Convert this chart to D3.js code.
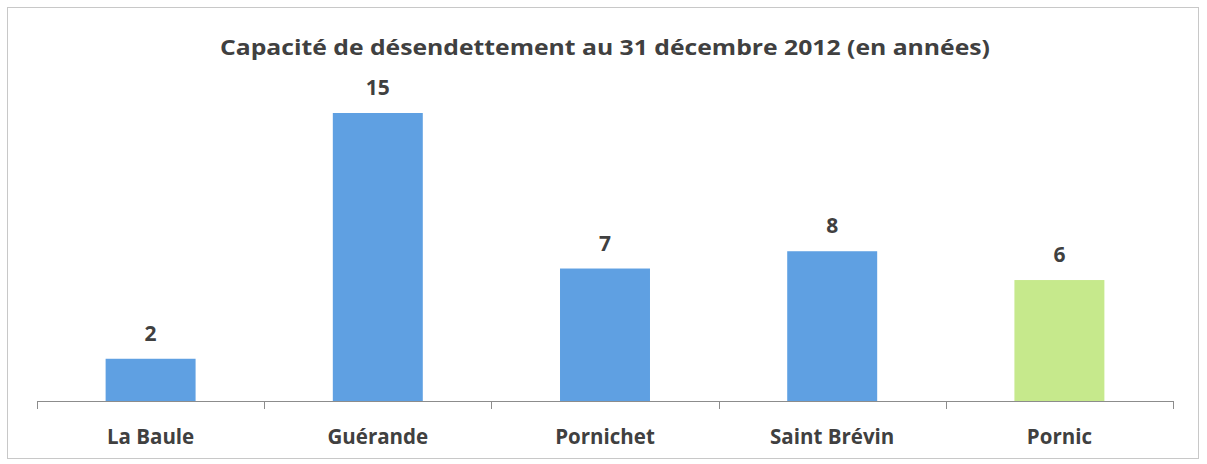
<!DOCTYPE html>
<html>
<head>
<meta charset="utf-8">
<script src="https://cdn.jsdelivr.net/npm/d3@7"></script>
<style>
  body { margin: 0; background: #fff; }
  svg text { font-family: "Open Sans", "Liberation Sans", sans-serif; font-weight: bold; fill: #404040; }
</style>
</head>
<body>
<svg width="1207" height="464"></svg>
<script>
// data
var communes = ["La Baule", "Guérande", "Pornichet", "Saint Brévin", "Pornic"];
var annees = [2.2, 15.0, 6.9, 7.8, 6.3];
var couleurs = ["#5fa0e2", "#5fa0e2", "#5fa0e2", "#5fa0e2", "#c6e98c"];
var titre = "Capacité de désendettement au 31 décembre 2012 (en années)";

var svg = d3.select("svg");

// cadre du graphique
svg.append("rect")
    .attr("x", 7.5).attr("y", 7.5)
    .attr("width", 1191).attr("height", 451)
    .attr("fill", "none")
    .attr("stroke", "#c8c8c8");

var x = d3.scaleBand()
    .domain(communes)
    .range([37, 1173])
    .paddingInner(0.604)
    .paddingOuter(0.302);

var y = d3.scaleLinear()
    .domain([0, 16])
    .range([401, 401 - 16 * 19.2]);

// titre
svg.append("text")
    .attr("x", 605).attr("y", 55)
    .attr("text-anchor", "middle")
    .attr("font-size", 22)
    .attr("textLength", 770)
    .attr("lengthAdjust", "spacingAndGlyphs")
    .text(titre);

// barres
svg.selectAll(".bar")
    .data(annees)
    .enter().append("rect")
    .attr("class", "bar")
    .attr("x", function (d, i) { return x(communes[i]); })
    .attr("y", function (d) { return y(d); })
    .attr("width", x.bandwidth())
    .attr("height", function (d) { return y(0) - y(d); })
    .attr("fill", function (d, i) { return couleurs[i]; });

// étiquettes de valeur
svg.selectAll(".val")
    .data(annees)
    .enter().append("text")
    .attr("class", "val")
    .attr("x", function (d, i) { return x(communes[i]) + x.bandwidth() / 2; })
    .attr("y", function (d) { return y(d) - 18; })
    .attr("text-anchor", "middle")
    .attr("font-size", 21)
    .text(function (d) { return d3.format(".0f")(d); });

// axe des abscisses, graduations entre les catégories
var axe = svg.append("g");
axe.append("line")
    .attr("x1", 37).attr("x2", 1173)
    .attr("y1", 401.5).attr("y2", 401.5)
    .attr("stroke", "#8c8c8c");
var bornes = [37].concat(communes.map(function (c) { return x(c) + x.bandwidth() + x.step() * x.paddingInner() / 2; }));
bornes[bornes.length - 1] = 1173;
axe.selectAll(".tick")
    .data(bornes)
    .enter().append("line")
    .attr("x1", function (d) { return Math.round(d) + 0.5; })
    .attr("x2", function (d) { return Math.round(d) + 0.5; })
    .attr("y1", 401).attr("y2", 409)
    .attr("stroke", "#8c8c8c");

axe.selectAll(".cat")
    .data(communes)
    .enter().append("text")
    .attr("class", "cat")
    .attr("x", function (d) { return x(d) + x.bandwidth() / 2; })
    .attr("y", 444)
    .attr("text-anchor", "middle")
    .attr("font-size", 20.5)
    .text(function (d) { return d; });
</script>
</body>
</html>
